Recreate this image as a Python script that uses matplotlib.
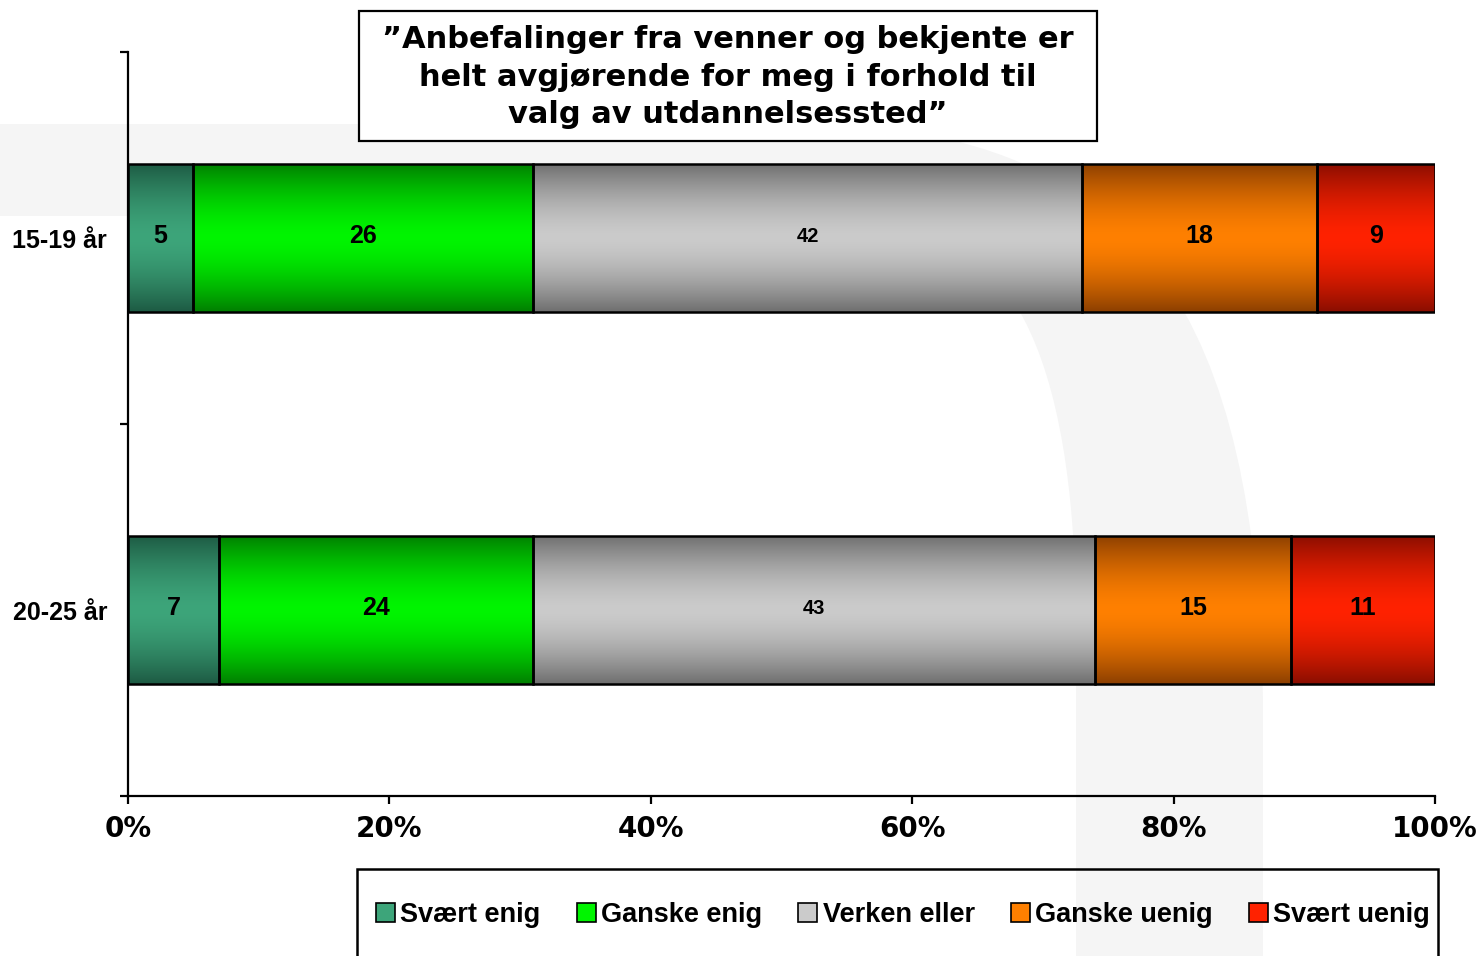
import numpy as np
import matplotlib
matplotlib.use("Agg")
import matplotlib.pyplot as plt
from matplotlib.patches import Rectangle, Patch, PathPatch
from matplotlib.path import Path
from matplotlib.colors import to_rgb

# ---------------- data ----------------
categories = ["15-19 år", "20-25 år"]
series_names = ["Svært enig", "Ganske enig", "Verken eller", "Ganske uenig", "Svært uenig"]
svaert_enig = [5, 7]
ganske_enig = [26, 24]
verken_eller = [42, 43]
ganske_uenig = [18, 15]
svaert_uenig = [9, 11]
series_values = [svaert_enig, ganske_enig, verken_eller, ganske_uenig, svaert_uenig]
x_ticks = [0, 20, 40, 60, 80, 100]
x_tick_labels = ["0%", "20%", "40%", "60%", "80%", "100%"]
title_text = "”Anbefalinger fra venner og bekjente er\nhelt avgjørende for meg i forhold til\nvalg av utdannelsessted”"

# gradient colours (centre, edge) per series
mid_colors = ["#3DA57A", "#00F500", "#CBCBCB", "#FF8000", "#FF2200"]
edge_colors = ["#1D5A43", "#007F00", "#6E6E6E", "#8C3F00", "#8A0E00"]

W, H = 1478, 956
fig = plt.figure(figsize=(W / 100, H / 100), dpi=100)
fig.patch.set_facecolor("white")

def fx(x):
    return x / W

def fy(y):
    return 1 - y / H

# ---------------- background watermark ----------------
bg = fig.add_axes([0, 0, 1, 1], zorder=-10)
bg.set_xlim(0, 1)
bg.set_ylim(0, 1)
bg.axis("off")
verts = [
    (0, 124), (800, 124),
    (1150, 124), (1255, 330), (1263, 700),
    (1263, 960), (1076, 960), (1076, 600),
    (1070, 330), (1000, 216), (850, 216),
    (0, 216), (0, 124),
]
codes = [Path.MOVETO, Path.LINETO,
         Path.CURVE4, Path.CURVE4, Path.CURVE4,
         Path.LINETO, Path.LINETO, Path.LINETO,
         Path.CURVE4, Path.CURVE4, Path.CURVE4,
         Path.LINETO, Path.CLOSEPOLY]
bg.add_patch(PathPatch(Path([(fx(a), fy(b)) for a, b in verts], codes),
                       facecolor="#F5F5F5", edgecolor="none"))

# ---------------- axes ----------------
ax = fig.add_axes([fx(128), fy(796), fx(1435) - fx(128), fy(52) - fy(796)], zorder=1)
ax.set_facecolor("none")

y_pos = np.arange(len(categories))
left = np.zeros(len(categories))
bar_h = 0.4
for i, vals in enumerate(series_values):
    bars = ax.barh(y_pos, vals, left=left, height=bar_h, facecolor="none",
                   edgecolor="black", linewidth=1.8, zorder=3)
    c_mid = np.array(to_rgb(mid_colors[i]))
    c_edge = np.array(to_rgb(edge_colors[i]))
    t = np.abs(np.linspace(-1, 1, 200))
    w = np.clip(t, 0, 1) ** 1.6
    grad = c_mid[None, :] * (1 - w[:, None]) + c_edge[None, :] * w[:, None]
    grad = grad[:, None, :]
    for b, v in zip(bars, vals):
        x0, y0 = b.get_x(), b.get_y()
        bw, bh = b.get_width(), b.get_height()
        im = ax.imshow(grad, extent=[x0, x0 + bw, y0 + bh, y0], aspect="auto",
                       interpolation="bilinear", zorder=2)
        im.set_clip_path(b)
        fs = 14.5 if i == 2 else 18
        ax.text(x0 + bw / 2, y0 + bh / 2 - 0.005, str(v), ha="center", va="center",
                fontsize=fs, fontweight="bold", family="Liberation Sans", zorder=4)
    left = left + np.array(vals)

ax.set_xlim(0, 100)
ax.set_ylim(1.5, -0.5)

for s in ["top", "right"]:
    ax.spines[s].set_visible(False)
for s in ["left", "bottom"]:
    ax.spines[s].set_linewidth(1.6)
    ax.spines[s].set_color("black")

ax.set_xticks(x_ticks)
ax.set_xticklabels(x_tick_labels, fontsize=20, fontweight="bold", family="DejaVu Sans")
ax.tick_params(axis="x", length=6, width=1.6, pad=8)

ax.set_yticks(y_pos)
ax.set_yticklabels(categories, fontsize=18, fontweight="bold", family="Liberation Sans")
ax.tick_params(axis="y", which="major", length=0, pad=15)
ax.set_yticks([-0.5, 0.5, 1.5], minor=True)
ax.tick_params(axis="y", which="minor", length=6, width=1.6)

# ---------------- title box ----------------
fig.patches.append(Rectangle((fx(359), fy(141)), fx(1097) - fx(359), fy(11) - fy(141),
                             transform=fig.transFigure, facecolor="white",
                             edgecolor="black", linewidth=1.6, zorder=5))
fig.text(fx(728), fy(77), title_text, ha="center", va="center", fontsize=22,
         fontweight="bold", family="DejaVu Sans", linespacing=1.36, zorder=6)

# ---------------- legend ----------------
fig.patches.append(Rectangle((fx(357), fy(962)), fx(1438) - fx(357), fy(869) - fy(962),
                             transform=fig.transFigure, facecolor="none",
                             edgecolor="black", linewidth=1.8, zorder=5))
handles = [Patch(facecolor=mid_colors[i], edgecolor="black", linewidth=1.2)
           for i in range(len(series_names))]
leg = fig.legend(handles, series_names, loc="center",
                 bbox_to_anchor=(fx(903), fy(915)), ncol=5, frameon=False,
                 prop={"family": "Liberation Sans", "weight": "bold", "size": 19.5},
                 handlelength=0.7, handleheight=0.75, handletextpad=0.2,
                 columnspacing=1.33, borderpad=0.2, borderaxespad=0)
leg.set_zorder(7)

fig.savefig("out.png", dpi=100, facecolor="white")
